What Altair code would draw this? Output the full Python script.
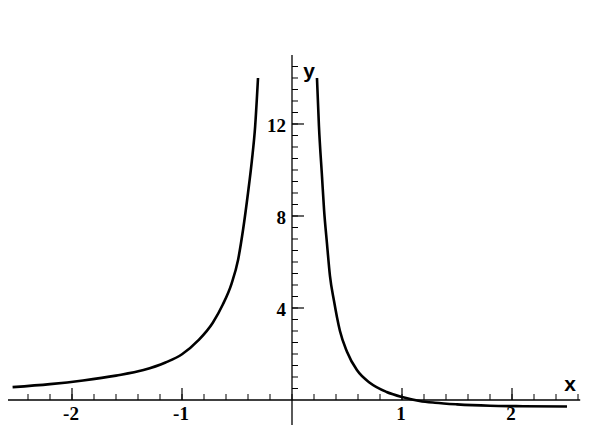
import altair as alt
import pandas as pd

# ---- data ----
left_x = [-2.54, -2.2, -1.9, -1.6, -1.35, -1.15, -1.0, -0.85, -0.72, -0.63,
          -0.55, -0.49, -0.445, -0.40, -0.365, -0.335, -0.309]
left_y = [0.56, 0.69, 0.85, 1.06, 1.30, 1.63, 1.99, 2.6, 3.36, 4.14,
          5.05, 6.1, 7.4, 9.0, 10.4, 11.9, 14.0]

right_x = [0.227, 0.245, 0.273, 0.291, 0.318, 0.345, 0.382, 0.409, 0.436, 0.5,
           0.59, 0.71, 0.86, 1.01, 1.16, 1.3, 1.5, 1.8, 2.1, 2.5]
right_y = [14.0, 11.9, 9.7, 8.3, 6.8, 5.4, 4.3, 3.6, 3.0, 2.1,
           1.3, 0.74, 0.35, 0.12, -0.04, -0.12, -0.19, -0.25, -0.27, -0.28]

x_major = [-2, -1, 1, 2]
x_labels = ["-2", "-1", "1", "2"]
x_minor = [round(-2.6 + 0.2 * i, 2) for i in range(27)]
y_major = [4, 8, 12]
y_labels = ["4", "8", "12"]
y_minor = [0.5 * i for i in range(1, 30)]

X_DOM = [-2.5818, 2.6545]
Y_DOM = [-1.087, 17.043]

curve = pd.DataFrame({
    "x": left_x + right_x,
    "y": left_y + right_y,
    "seg": ["L"] * len(left_x) + ["R"] * len(right_x),
})

xs = alt.Scale(domain=X_DOM, nice=False, zero=False)
ys = alt.Scale(domain=Y_DOM, nice=False, zero=False)
X = lambda f="x": alt.X(f, type="quantitative", scale=xs, axis=None)
Y = lambda f="y": alt.Y(f, type="quantitative", scale=ys, axis=None)

lines = alt.Chart(curve).mark_line(color="black", strokeWidth=2.6, interpolate="monotone").encode(
    x=X(), y=Y(), detail="seg:N"
)

xaxis = alt.Chart(pd.DataFrame({"x": [-2.6], "x2": [2.62], "y": [0]})).mark_rule(
    color="black", strokeWidth=1.3).encode(x=X(), x2="x2:Q", y=Y())
yaxis = alt.Chart(pd.DataFrame({"x": [0], "y": [-1.1], "y2": [15.0]})).mark_rule(
    color="black", strokeWidth=1.3).encode(x=X(), y=Y(), y2="y2:Q")

xminor = alt.Chart(pd.DataFrame({"x": x_minor, "y": [0] * len(x_minor)})).mark_tick(
    orient="vertical", size=6, thickness=1, color="black", yOffset=-3, opacity=1).encode(x=X(), y=Y())
xmajor = alt.Chart(pd.DataFrame({"x": x_major, "y": [0] * len(x_major)})).mark_tick(
    orient="vertical", size=12, thickness=1.2, color="black", yOffset=-6, opacity=1).encode(x=X(), y=Y())
yminor = alt.Chart(pd.DataFrame({"y": y_minor, "x": [0] * len(y_minor)})).mark_tick(
    orient="horizontal", size=6, thickness=1, color="black", xOffset=3, opacity=1).encode(x=X(), y=Y())
ymajor = alt.Chart(pd.DataFrame({"y": y_major, "x": [0] * len(y_major)})).mark_tick(
    orient="horizontal", size=12, thickness=1.2, color="black", xOffset=6, opacity=1).encode(x=X(), y=Y())

xlab = alt.Chart(pd.DataFrame({"x": x_major, "y": [0] * 4, "t": x_labels})).mark_text(
    font="Liberation Serif", fontSize=19, fontWeight="bold", color="black",
    baseline="middle", align="center", dy=14, dx=-1).encode(x=X(), y=Y(), text="t:N")
ylab = alt.Chart(pd.DataFrame({"y": y_major, "x": [0] * 3, "t": y_labels})).mark_text(
    font="Liberation Serif", fontSize=19, fontWeight="bold", color="black",
    baseline="middle", align="right", dx=-6, dy=2).encode(x=X(), y=Y(), text="t:N")

xname = alt.Chart(pd.DataFrame({"t": ["x"]})).mark_text(
    font="Liberation Sans", fontSize=21, fontWeight="bold", color="black",
    baseline="middle", align="center").encode(x=alt.value(562), y=alt.value(377), text="t:N")
yname = alt.Chart(pd.DataFrame({"t": ["y"]})).mark_text(
    font="Liberation Sans", fontSize=21, fontWeight="bold", color="black",
    baseline="middle", align="center").encode(x=alt.value(301), y=alt.value(64), text="t:N")

chart = alt.layer(xaxis, yaxis, xminor, xmajor, yminor, ymajor, lines, xlab, ylab, xname, yname).properties(
    width=576, height=417, padding=0, autosize=alt.AutoSizeParams(type="none"),
    background="white",
).configure_view(stroke=None)

chart.save("out.html", embed_options={"renderer": "svg", "actions": False})
